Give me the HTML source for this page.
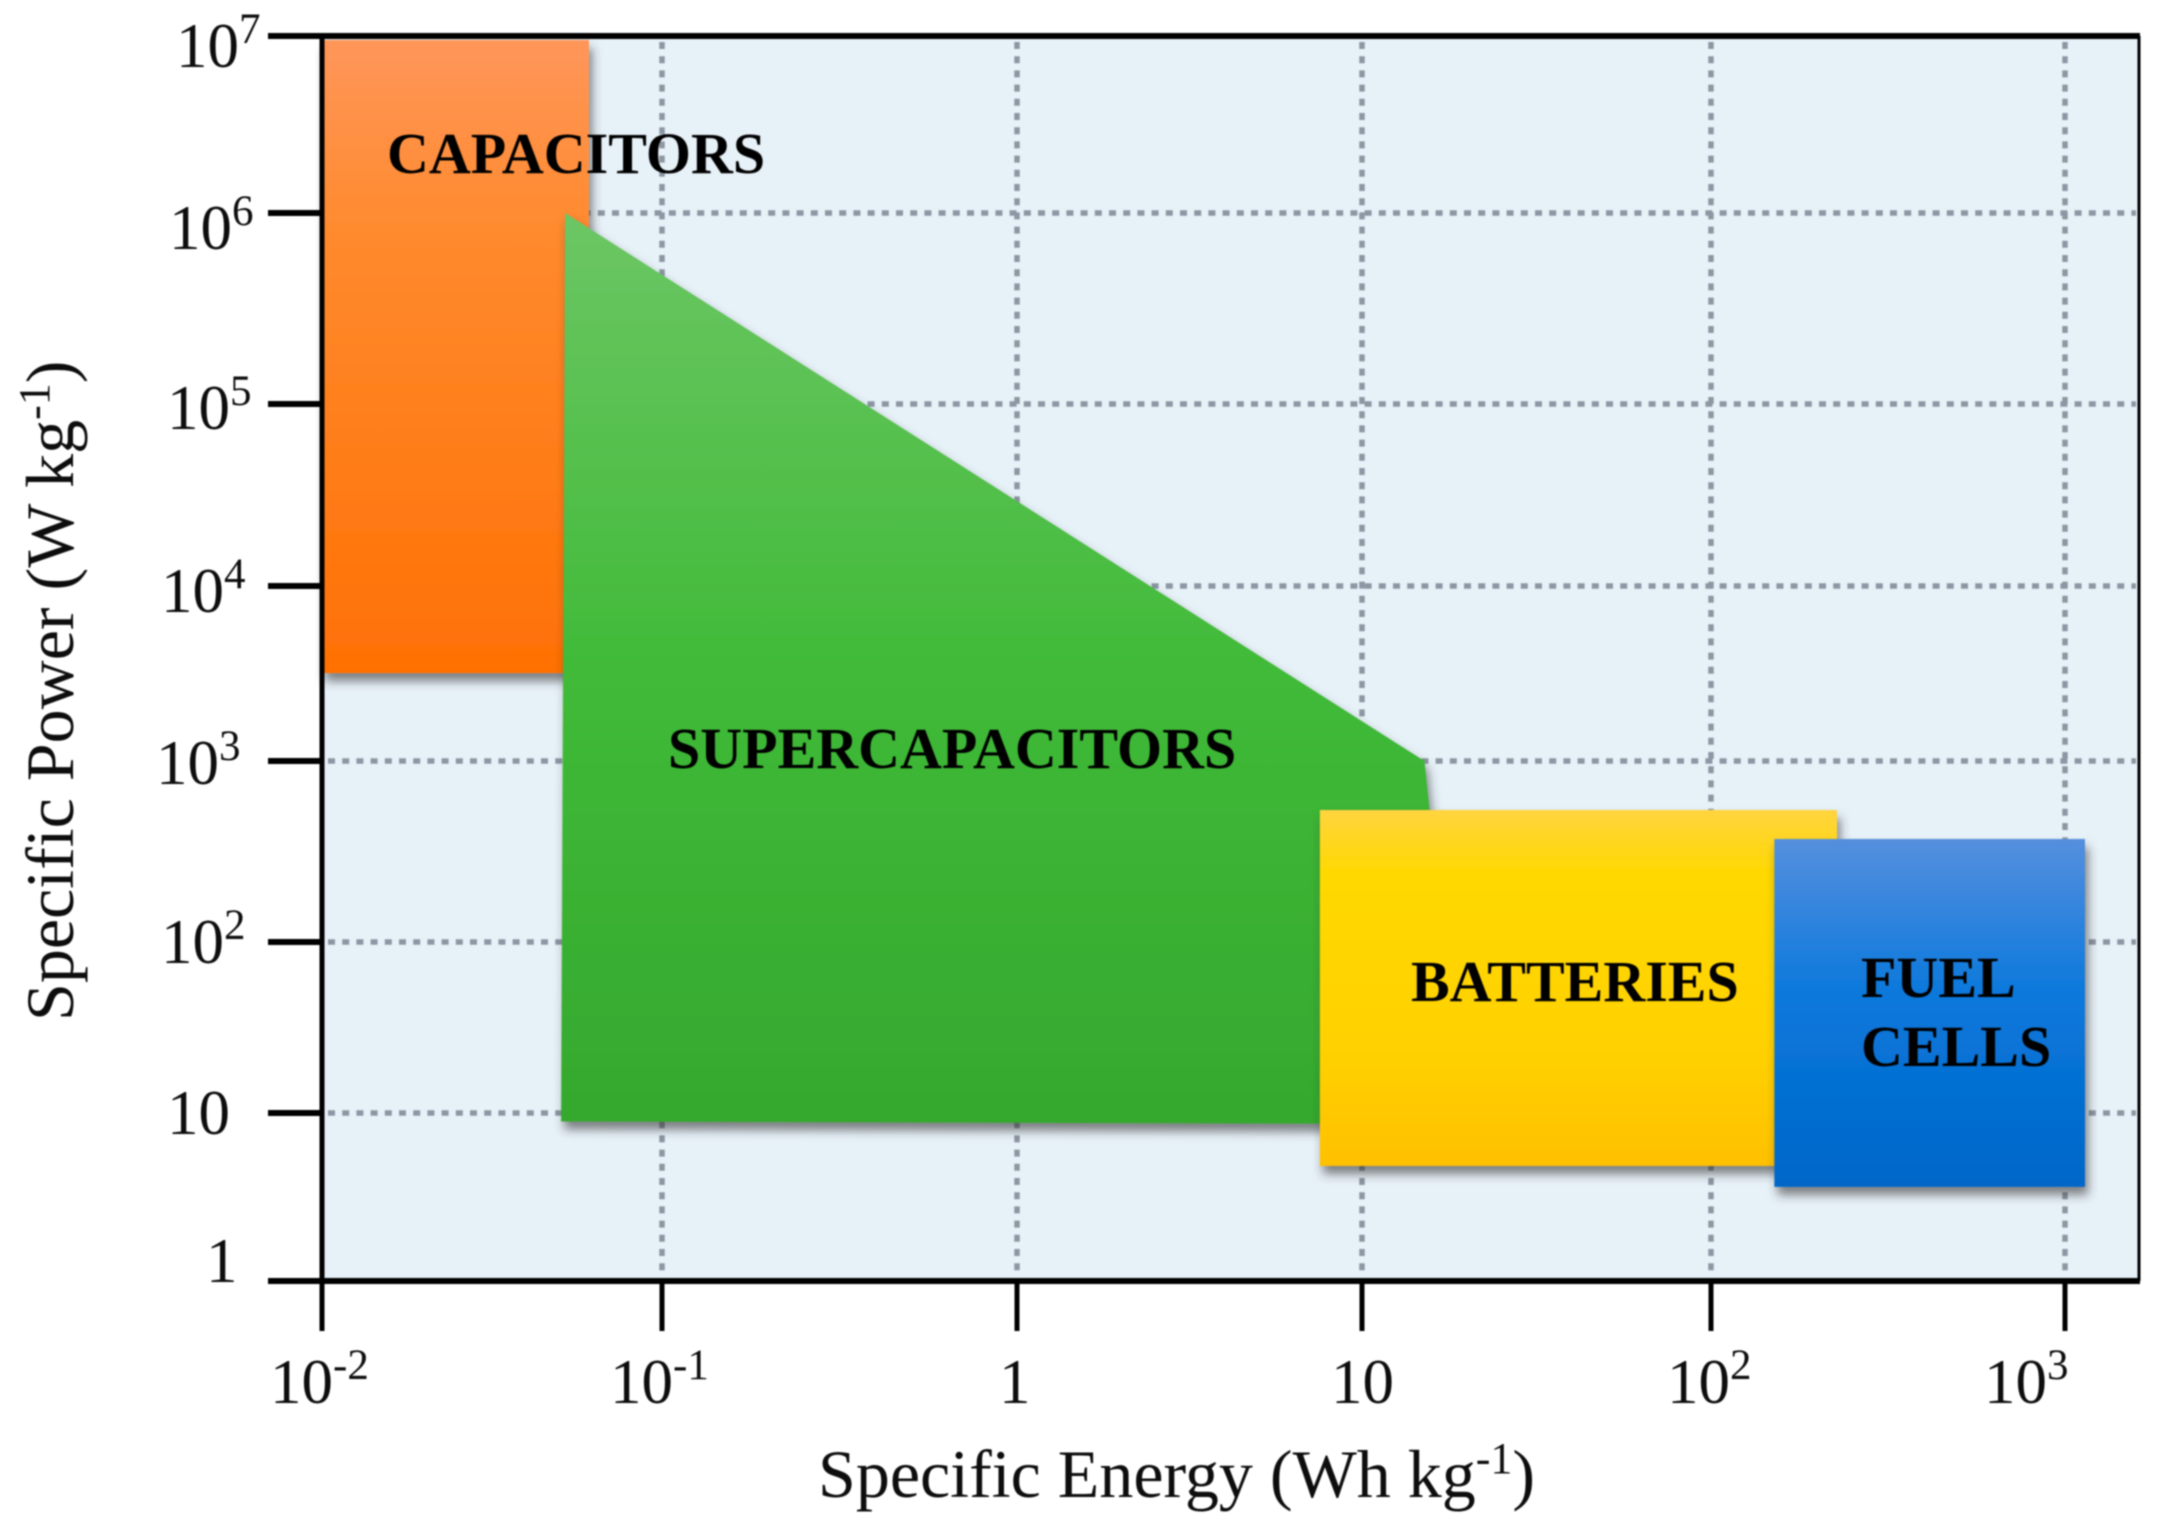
<!DOCTYPE html>
<html lang="en">
<head>
<meta charset="utf-8">
<title>Ragone plot</title>
<style>
html,body{margin:0;padding:0;background:#fff;width:2157px;height:1532px;overflow:hidden}
svg{display:block;filter:blur(.7px)}
text{font-family:"Liberation Serif","DejaVu Serif",serif;fill:#0d0d0d}
.region-label{font-weight:bold;font-size:58px;fill:#000}
</style>
</head>
<body>
<svg id="chart" xmlns="http://www.w3.org/2000/svg" width="2157" height="1532" viewBox="0 0 2157 1532">
  <defs>
    <linearGradient id="g-orange" x1="0" y1="0" x2="0" y2="1">
      <stop offset="0" stop-color="#ff965a"/><stop offset=".3" stop-color="#ff8a2e"/><stop offset="1" stop-color="#ff7004"/>
    </linearGradient>
    <linearGradient id="g-green" x1="0" y1="0" x2="0" y2="1">
      <stop offset="0" stop-color="#6cc664"/><stop offset=".5" stop-color="#40ba38"/><stop offset="1" stop-color="#35a82e"/>
    </linearGradient>
    <linearGradient id="g-yellow" x1="0" y1="0" x2="0" y2="1">
      <stop offset="0" stop-color="#ffd43f"/><stop offset=".18" stop-color="#ffd800"/><stop offset=".7" stop-color="#ffd000"/><stop offset="1" stop-color="#ffc000"/>
    </linearGradient>
    <linearGradient id="g-blue" x1="0" y1="0" x2="0" y2="1">
      <stop offset="0" stop-color="#558fdd"/><stop offset=".45" stop-color="#0a78dc"/><stop offset="1" stop-color="#0066c8"/>
    </linearGradient>
    <filter id="shadow" x="-5%" y="-5%" width="112%" height="112%">
      <feDropShadow dx="3" dy="8" stdDeviation="5" flood-color="#333" flood-opacity=".6"/>
    </filter>
  </defs>
  <rect x="322" y="36" width="1817" height="1245" fill="#e7f1f8"/>
  <g id="grid"></g>
  <g id="regions"></g>
  <g id="axes"></g>
  <g id="tick-labels" font-size="63"></g>

  <text class="region-label" x="387" y="173">CAPACITORS</text>
  <text class="region-label" x="668" y="768">SUPERCAPACITORS</text>
  <text class="region-label" x="1411" y="1001">BATTERIES</text>
  <text class="region-label" x="1861" y="997">FUEL</text>
  <text class="region-label" x="1861" y="1066">CELLS</text>

  <text x="818" y="1497" font-size="68">Specific Energy (Wh kg<tspan font-size="44" dy="-24">-1</tspan><tspan dy="24">)</tspan></text>
  <text transform="translate(73,1021) rotate(-90)" font-size="68">Specific Power (W kg<tspan font-size="44" dy="-24">-1</tspan><tspan dy="24">)</tspan></text>
</svg>
<script>
// Axis tick values
const xTickValues = [0.01, 0.1, 1, 10, 100, 1000];
const yTickValues = [1, 10, 100, 1000, 10000, 100000, 1000000, 10000000];
const xTickExponents = [-2, -1, 0, 1, 2, 3];
const yTickExponents = [0, 1, 2, 3, 4, 5, 6, 7];

// Region extents: energy in Wh/kg, power in W/kg
const capacitorEnergy = [0.01, 0.01, 0.061, 0.061];
const capacitorPower = [3180, 9500000, 9500000, 3180];
const supercapEnergy = [0.0519, 15.1, 15.6, 15.6, 0.0505];
const supercapPower = [1000000, 1000, 550, 8.6, 8.9];
const batteryEnergy = [7.55, 7.55, 227, 227];
const batteryPower = [4.84, 536, 536, 4.84];
const fuelCellEnergy = [151, 151, 1139, 1139];
const fuelCellPower = [3.63, 371, 371, 3.63];

const NS = 'http://www.w3.org/2000/svg';

// Piecewise log axis: the printed axis has slightly uneven decades
function logAxis(v, start, knots) {
  const t = Math.log10(v) - start;
  const i = Math.max(0, Math.min(knots.length - 2, Math.floor(t)));
  return knots[i] + (t - i) * (knots[i + 1] - knots[i]);
}
function xScale(v) {
  return logAxis(v, -2, [322, 662, 1017, 1362, 1711, 2065]);
}
function yScale(v) {
  return logAxis(v, 0, [1281, 1113, 942, 761, 586, 404, 213, 36]);
}

function line(parent, x1, y1, x2, y2, stroke, width, dash) {
  const el = document.createElementNS(NS, 'line');
  el.setAttribute('x1', x1);
  el.setAttribute('y1', y1);
  el.setAttribute('x2', x2);
  el.setAttribute('y2', y2);
  el.setAttribute('stroke', stroke);
  el.setAttribute('stroke-width', width);
  if (dash) el.setAttribute('stroke-dasharray', dash);
  parent.appendChild(el);
  return el;
}

function region(parent, energy, power, fill) {
  const el = document.createElementNS(NS, 'polygon');
  const pts = energy.map(function (e, i) { return xScale(e) + ',' + yScale(power[i]); });
  el.setAttribute('points', pts.join(' '));
  el.setAttribute('fill', fill);
  el.setAttribute('filter', 'url(#shadow)');
  parent.appendChild(el);
  return el;
}

function tickLabel(parent, exponent, x, y) {
  const el = document.createElementNS(NS, 'text');
  el.setAttribute('x', x);
  el.setAttribute('y', y);
  if (exponent === 0) {
    el.textContent = '1';
  } else if (exponent === 1) {
    el.textContent = '10';
  } else {
    el.appendChild(document.createTextNode('10'));
    const sup = document.createElementNS(NS, 'tspan');
    sup.setAttribute('font-size', '43');
    sup.setAttribute('dy', '-24');
    sup.textContent = String(exponent);
    el.appendChild(sup);
  }
  parent.appendChild(el);
  return el;
}

const gridGroup = document.getElementById('grid');
const regionGroup = document.getElementById('regions');
const axisGroup = document.getElementById('axes');
const labelGroup = document.getElementById('tick-labels');

const PLOT_L = 322, PLOT_R = 2139, PLOT_T = 36, PLOT_B = 1281;
const GRID = '#8d97a3';

xTickValues.forEach(function (v) {
  if (v === xTickValues[0]) return;
  const g = line(gridGroup, xScale(v), PLOT_T + 6, xScale(v), PLOT_B - 4, GRID, 5.5, '7 7.2');
  
  
});
yTickValues.forEach(function (v) {
  if (v === yTickValues[0] || v === yTickValues[yTickValues.length - 1]) return;
  const g = line(gridGroup, PLOT_L + 6, yScale(v), PLOT_R - 3, yScale(v), GRID, 5.5, '7 7.2');
  
  
});

const capRegion = region(regionGroup, capacitorEnergy, capacitorPower, 'url(#g-orange)');


const superRegion = region(regionGroup, supercapEnergy, supercapPower, 'url(#g-green)');


const battRegion = region(regionGroup, batteryEnergy, batteryPower, 'url(#g-yellow)');


const fuelRegion = region(regionGroup, fuelCellEnergy, fuelCellPower, 'url(#g-blue)');



const spineR = line(axisGroup, PLOT_R, PLOT_T, PLOT_R, PLOT_B, '#000', 3);



xTickValues.forEach(function (v) {
  const t = line(axisGroup, xScale(v), v === xTickValues[0] ? PLOT_T : PLOT_B, xScale(v), PLOT_B + 50, '#000', 5);
  
  
});
yTickValues.forEach(function (v) {
  const t = line(axisGroup, 268, yScale(v), v === yTickValues[0] || v === yTickValues[yTickValues.length - 1] ? PLOT_R + 1 : PLOT_L, yScale(v), '#000', 6);
  
  
});

function xLabelOffset(ex) {
  return { '-2': -52, '-1': -52, '0': -18, '1': -31, '2': -44, '3': -81 }[String(ex)];
}
xTickExponents.forEach(function (ex, i) {
  const left = xScale(xTickValues[i]) + xLabelOffset(ex);
  const l = tickLabel(labelGroup, ex, left, 1403);
  
  
});

function yLabelOffset(ex) {
  return [[-116, 1], [-155, 21], [-161, 21], [-166, 23], [-161, 26], [-155, 25], [-153, 36], [-146, 31]][ex];
}
yTickExponents.forEach(function (ex, i) {
  const off = yLabelOffset(ex);
  const l = tickLabel(labelGroup, ex, PLOT_L + off[0], yScale(yTickValues[i]) + off[1]);
  
  
});
</script>
</body>
</html>
